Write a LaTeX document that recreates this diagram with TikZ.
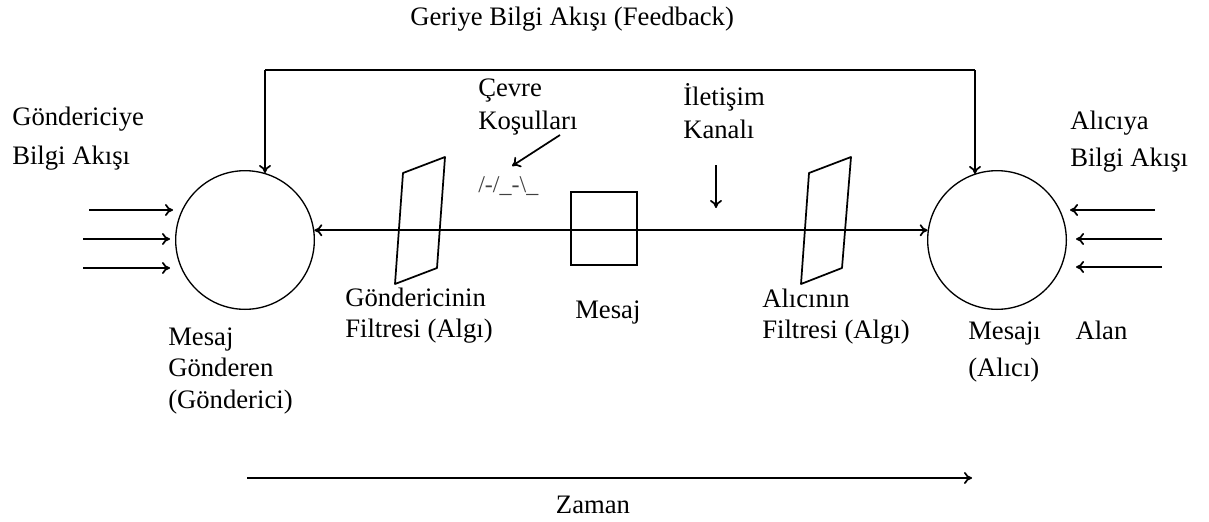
\documentclass[tikz,border=0pt]{standalone}
\usepackage{fontspec}
\setmainfont{Liberation Serif}
\usetikzlibrary{arrows.meta}
\begin{document}
\begin{tikzpicture}[x=0.75pt,y=0.75pt,
  line/.style={line width=1.3pt},
  tip/.tip={To[length=6pt,width=9pt,line width=1.3pt]},
  arr/.style={line width=1.3pt,-tip},
  darr/.style={line width=1.3pt,tip-tip},
  lbl/.style={inner sep=0pt,anchor=base west,align=left,font=\fontsize{20}{23.6}\selectfont},
  party/.style={circle,draw,line width=1pt,minimum size=104pt,inner sep=0pt},
  msgbox/.style={draw,line width=1.3pt,minimum width=49.5pt,minimum height=54.75pt,inner sep=0pt},
  filt/.style={line width=1.3pt,line join=round}]
\useasboundingbox (0,0) rectangle (1209,-521);

% sender and receiver
\node[party] (snd) at (245,-240) {};
\node[party] (rcv) at (997,-240) {};

% message box on the channel
\node[msgbox] (msg) at (604,-228.5) {};

% channel between the two parties
\draw[darr] (snd.8) -- (rcv.172);

% perception filters
\draw[filt] (403,-173) -- (445,-157) -- (437,-268) -- (395,-284) -- cycle;
\draw[filt] (809,-173) -- (851,-157) -- (842,-268) -- (801,-284) -- cycle;

% feedback loop
\coordinate (fbL) at (265,-70);
\coordinate (fbR) at (975,-70);
\draw[line] (fbL) -- (fbR);
\draw[arr] (fbL) -- ++(0,-103);
\draw[arr] (fbR) -- ++(0,-104);
\node[lbl] (fb) at (410,-26) {Geriye Bilgi Akışı (Feedback)};

% incoming information to the sender
\coordinate (in1) at (89,-210);
\coordinate (in2) at (83,-239);
\coordinate (in3) at (83,-268);
\coordinate (in1e) at (173,-210);
\coordinate (in2e) at (170,-239);
\coordinate (in3e) at (170,-268);
\draw[arr] (in1) -- (in1e);
\draw[arr] (in2) -- (in2e);
\draw[arr] (in3) -- (in3e);

% incoming information to the receiver
\coordinate (out1) at (1155,-210);
\coordinate (out2) at (1162,-239);
\coordinate (out3) at (1162,-267);
\coordinate (out1e) at (1070,-210);
\coordinate (out2e) at (1076,-239);
\coordinate (out3e) at (1076,-267);
\draw[arr] (out1) -- (out1e);
\draw[arr] (out2) -- (out2e);
\draw[arr] (out3) -- (out3e);

% environment
\node[lbl] (env) at (478,-129.5) {Çevre\\[1.5pt]Koşulları};
\node[inner sep=0pt,anchor=base west,text=black!75,font=\fontsize{18}{20}\selectfont] (noise) at (478,-192) {/-/\_-\textbackslash\_};
\coordinate (envA) at (560,-135);
\coordinate (envB) at (512,-166);
\draw[arr] (envA) -- (envB);

% channel label
\node[lbl] (chan) at (683,-138) {İletişim\\[1pt]Kanalı};
\coordinate (chA) at (716,-165);
\coordinate (chB) at (716,-208);
\draw[arr] (chA) -- (chB);

% side labels
\node[lbl] (sndin) at (12,-164) {Göndericiye\\[5pt]Bilgi Akışı};
\node[lbl] (rcvin) at (1070,-166) {Alıcıya\\[3.5pt]Bilgi Akışı};

% lower labels
\node[lbl] (sfilt) at (345,-337.5) {Göndericinin\\Filtresi (Algı)};
\node[lbl] (mlbl) at (575,-318) {Mesaj};
\node[lbl] (rfilt) at (762,-338.5) {Alıcının\\Filtresi (Algı)};
\node[lbl] (sndl) at (168,-408) {Mesaj\\Gönderen\\(Gönderici)};
\node[lbl] (rcvl) at (968,-376) {Mesajı\hspace{26pt}Alan\\[3.5pt](Alıcı)};

% time axis
\coordinate (t0) at (247,-478);
\coordinate (t1) at (972,-478);
\draw[arr] (t0) -- (t1);
\node[lbl,anchor=base] (time) at (593,-513) {Zaman};
\end{tikzpicture}
\end{document}
